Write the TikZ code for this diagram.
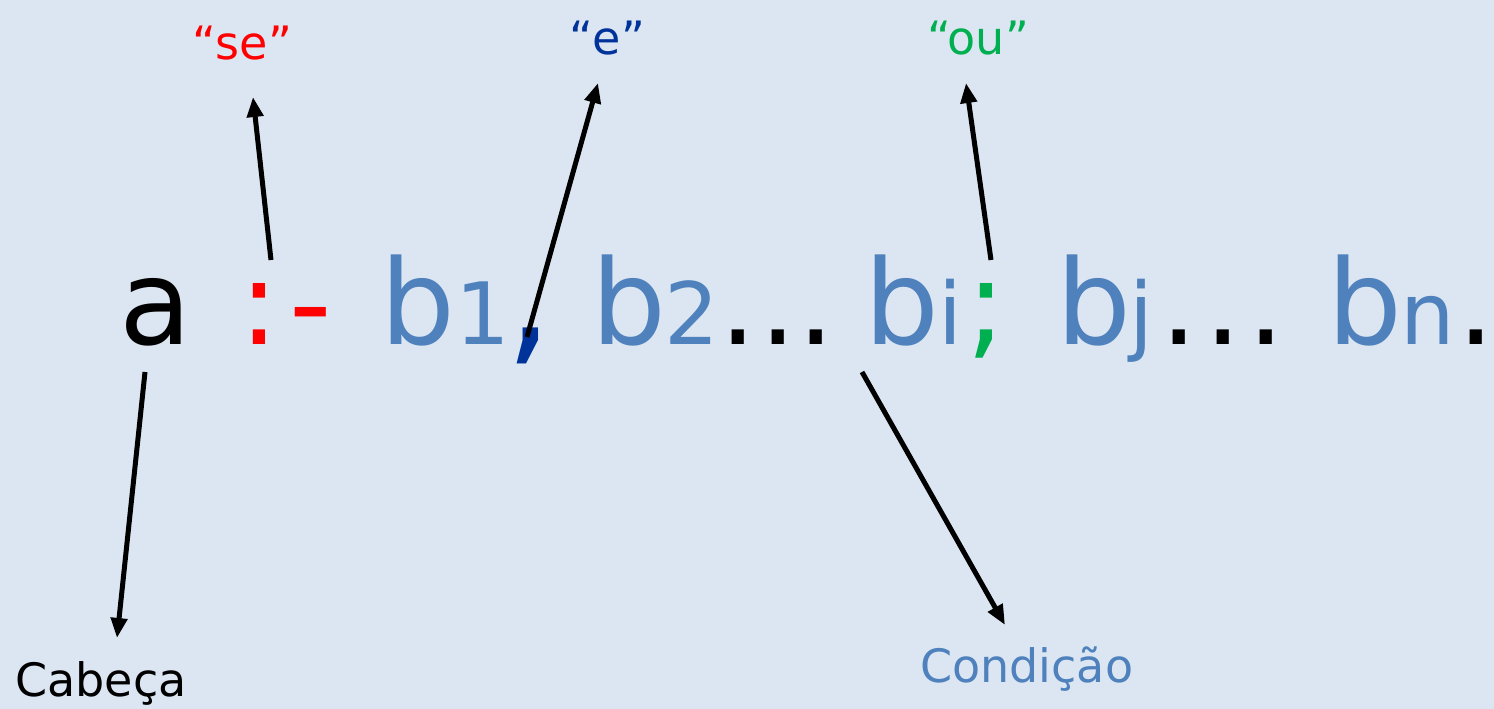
\documentclass[tikz,border=0pt]{standalone}
\usepackage{fontspec}
\setmainfont{DejaVu Sans}
\usetikzlibrary{arrows.meta}
\definecolor{bg}{HTML}{DCE6F2}
\definecolor{bb}{HTML}{4F81BD}
\definecolor{rr}{HTML}{FF0000}
\definecolor{db}{HTML}{003399}
\definecolor{gg}{HTML}{00B050}
\tikzset{
  tok/.style={inner sep=0pt, anchor=base west, font=\fontsize{118}{118}\selectfont},
  subtok/.style={inner sep=0pt, anchor=base west, font=\fontsize{86}{86}\selectfont},
  lab/.style={inner sep=0pt, anchor=base, font=\fontsize{46}{46}\selectfont},
  arr/.style={line width=5pt, -{Triangle[length=20pt,width=16pt]}}
}
\begin{document}
\begin{tikzpicture}[x=1pt,y=1pt]
\fill[bg] (0,0) rectangle (1494,709);
\useasboundingbox (0,0) rectangle (1494,709);
% formula
\node[tok] (a) at (119,364) {a};
\node[tok, text=rr] (colon) at (239,364) {:};
\node[tok, text=rr] (hy) at (289,364) {-};
\node[tok, text=bb] (b1) at (380,364) {b};
\node[subtok, text=bb] (s1) at (455,364) {1};
\node[tok, text=db, font=\fontsize{150}{150}\selectfont] (comma) at (505,362) {,};
\node[tok, text=bb] (b2) at (591,364) {b};
\node[subtok, text=bb] (s2) at (664,364) {2};
\node[tok] (d1a) at (719,364) {.};
\node[tok] (d1b) at (759,364) {.};
\node[tok] (d1c) at (797,364) {.};
\node[tok, text=bb] (bi) at (864,364) {b};
\node[subtok, text=bb] (si) at (938,364) {i};
\node[tok, text=gg] (semi) at (966,364) {;};
\node[tok, text=bb] (bj) at (1056,364) {b};
\node[subtok, text=bb] (sj) at (1129,364) {j};
\node[tok] (d2a) at (1160,364) {.};
\node[tok] (d2b) at (1204,364) {.};
\node[tok] (d2c) at (1247,364) {.};
\node[tok, text=bb] (bn) at (1327,364) {b};
\node[subtok, text=bb] (sn) at (1400,364) {n};
\node[tok] (dn) at (1457,364) {.};
% labels
\node[lab, text=rr] (se) at (242,649) {“se”};
\node[lab, text=db] (e) at (607,654) {“e”};
\node[lab, text=gg] (ou) at (978,654) {“ou”};
\node[lab, anchor=base west] (cab) at (15,12) {Cabeça};
\node[lab, anchor=base west, text=bb] (cond) at (920,26) {Condição};
% arrow endpoints
\coordinate (aS) at (145,337);
\coordinate (cabN) at (117,71);
\coordinate (seS) at (271,449);
\coordinate (seN) at (253,612);
\coordinate (eS) at (527,372);
\coordinate (eN) at (598,626);
\coordinate (ouS) at (991,449);
\coordinate (ouN) at (966,626);
\coordinate (biS) at (862,337);
\coordinate (condN) at (1005,84);
\draw[arr] (aS) -- (cabN);
\draw[arr] (seS) -- (seN);
\draw[arr] (eS) -- (eN);
\draw[arr] (ouS) -- (ouN);
\draw[arr] (biS) -- (condN);
\end{tikzpicture}
\end{document}
